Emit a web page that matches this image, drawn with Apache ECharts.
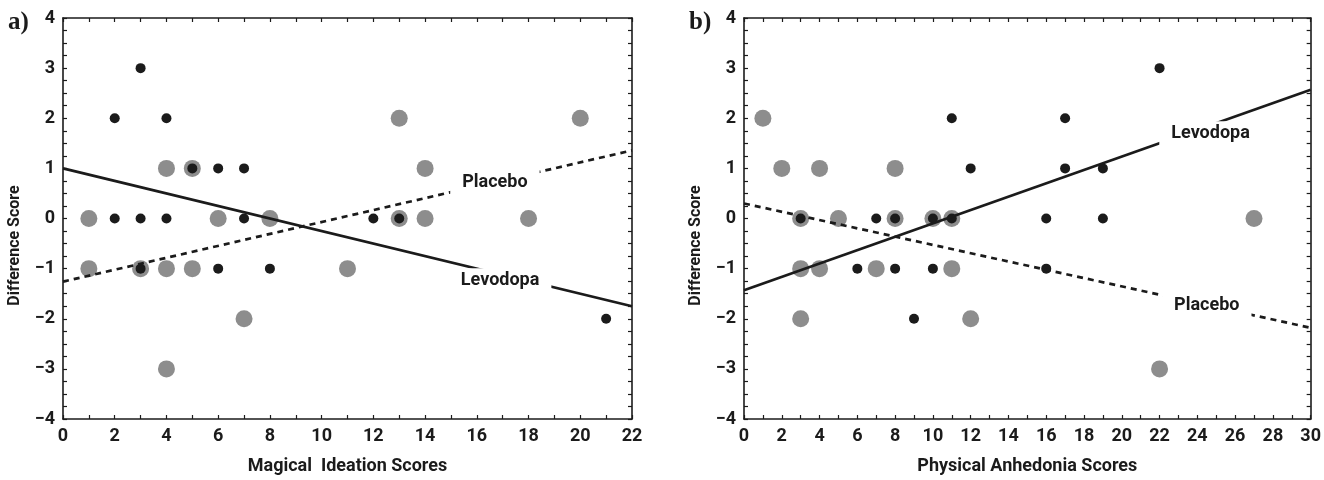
<!DOCTYPE html>
<html><head><meta charset="utf-8">
<script src="https://cdn.jsdelivr.net/npm/echarts@6/dist/echarts.min.js"></script>
<style>html,body{margin:0;padding:0;background:#fff}#c{width:1324px;height:480px}</style>
</head><body><div id="c"></div>
<script>
// ---- Panel a: Magical Ideation ----
const aLevodopaPts = [[3,3],[2,2],[4,2],[5,1],[6,1],[7,1],[2,0],[3,0],[4,0],[7,0],[12,0],[13,0],[3,-1],[6,-1],[8,-1],[21,-2]];
const aPlaceboPts = [[4,1],[5,1],[1,0],[6,0],[8,0],[13,2],[20,2],[14,1],[13,0],[14,0],[18,0],[1,-1],[3,-1],[4,-1],[5,-1],[11,-1],[7,-2],[4,-3]];
const aLevodopaFit = [1.0, -0.125];   // intercept, slope
const aPlaceboFit = [-1.26, 0.119];
const aXRange = [0, 22];
// ---- Panel b: Physical Anhedonia ----
const bLevodopaPts = [[11,2],[12,1],[3,0],[7,0],[8,0],[10,0],[11,0],[22,3],[17,2],[17,1],[19,1],[16,0],[19,0],[6,-1],[8,-1],[10,-1],[16,-1],[9,-2]];
const bPlaceboPts = [[1,2],[2,1],[4,1],[8,1],[3,0],[5,0],[8,0],[10,0],[11,0],[27,0],[3,-1],[4,-1],[7,-1],[11,-1],[3,-2],[12,-2],[22,-3]];
const bLevodopaFit = [-1.43, 0.1333];
const bPlaceboFit = [0.30, -0.0827];
const bXRange = [0, 30];
const yRange = [-4, 4];
const lineNames = ['Levodopa', 'Placebo'];

const INK = '#1b1b1b', GRAY = '#8d8d8d';
const sans = 'Roboto, "Noto Sans", sans-serif';
const tickFont = {fontFamily:sans, fontWeight:'bold', fontSize:18, color:INK};
const nameFont = {fontFamily:sans, fontWeight:'bold', fontSize:18, color:INK};
const fmt = v => v < 0 ? '\u2212' + Math.abs(v) : String(v);
const fit = (f, x) => f[0] + f[1] * x;

function xAx(grid, range, pos, name) {
  const primary = pos === 'bottom';
  return {
    type:'value', gridIndex:grid, position:pos, min:range[0], max:range[1], interval:2,
    axisLine:{show:true, onZero:false, lineStyle:{color:INK, width:1.6}},
    axisTick:{show:true, inside:true, length:4, lineStyle:{color:INK, width:1.2}},
    minorTick:{show:true, splitNumber:2, length:4, lineStyle:{color:INK, width:1.2}},
    splitLine:{show:false}, minorSplitLine:{show:false},
    axisLabel:{show:primary, formatter:fmt, margin:8, ...tickFont},
    name: primary ? name : '', nameLocation:'middle', nameGap:38, nameTextStyle:nameFont
  };
}
function yAx(grid, pos) {
  const primary = pos === 'left';
  return {
    type:'value', gridIndex:grid, position:pos, min:yRange[0], max:yRange[1], interval:1,
    axisLine:{show:true, onZero:false, lineStyle:{color:INK, width:1.6}},
    axisTick:{show:true, inside:true, length:4, lineStyle:{color:INK, width:1.2}},
    minorTick:{show:true, splitNumber:4, length:4, lineStyle:{color:INK, width:1.2}},
    splitLine:{show:false}, minorSplitLine:{show:false},
    axisLabel:{show:primary, formatter:fmt, margin:8, ...tickFont},
    name: primary ? 'Difference Score' : '', nameLocation:'middle', nameGap:40,
    nameTextStyle:{...nameFont, fontSize:16, padding:[0,54,0,0]}
  };
}
function scatter(xi, pts, big) {
  return {type:'scatter', xAxisIndex:xi, yAxisIndex:xi, data:pts, symbolSize: big ? 17 : 10,
    itemStyle:{color: big ? GRAY : INK, opacity:1}, z: big ? 2 : 3, silent:true};
}
function fitLine(xi, f, range, dashed) {
  return {type:'line', xAxisIndex:xi, yAxisIndex:xi, data:[[range[0], fit(f, range[0])],[range[1], fit(f, range[1])]],
    symbol:'none', lineStyle:{color:INK, width:2.7, type: dashed ? [6,5] : 'solid', opacity:1}, z:4, silent:true};
}
function lineLabel(xi, f, x, text, dy) {
  return {type:'scatter', xAxisIndex:xi, yAxisIndex:xi, data:[[x, fit(f, x)]], symbolSize:1, z:6, silent:true,
    itemStyle:{opacity:1, color:'#fff'},
    label:{show:true, position:'inside', formatter:text, offset:[0,dy], backgroundColor:'#ffffff', padding:[3,12],
      fontFamily:sans, fontWeight:'bold', fontSize:18, color:INK, textBorderWidth:0, opacity:1}};
}

const option = {
  animation:false,
  grid:[{left:63, right:692, top:18, bottom:59}, {left:744, right:11, top:18, bottom:59}],
  xAxis:[xAx(0, aXRange, 'bottom', 'Magical  Ideation Scores'), xAx(1, bXRange, 'bottom', 'Physical Anhedonia Scores'),
         xAx(0, aXRange, 'top'), xAx(1, bXRange, 'top')],
  yAxis:[yAx(0,'left'), yAx(1,'left'), yAx(0,'right'), yAx(1,'right')],
  series:[
    scatter(0, aPlaceboPts, true), scatter(0, aLevodopaPts, false),
    scatter(1, bPlaceboPts, true), scatter(1, bLevodopaPts, false),
    fitLine(0, aLevodopaFit, aXRange, false), fitLine(0, aPlaceboFit, aXRange, true),
    fitLine(1, bLevodopaFit, bXRange, false), fitLine(1, bPlaceboFit, bXRange, true),
    lineLabel(0, aPlaceboFit, 16.7, lineNames[1], 0),
    lineLabel(0, aLevodopaFit, 16.9, lineNames[0], 6),
    lineLabel(1, bLevodopaFit, 24.7, lineNames[0], 8),
    lineLabel(1, bPlaceboFit, 24.5, lineNames[1], 0)
  ],
  graphic:[
    {type:'text', left:8, top:10, style:{text:'a)', font:'bold 25px "Liberation Serif", serif', fill:INK}},
    {type:'text', left:689, top:10, style:{text:'b)', font:'bold 25px "Liberation Serif", serif', fill:INK}}
  ]
};
const chart = echarts.init(document.getElementById('c'), null, {renderer:'canvas'});
chart.setOption(option);
</script></body></html>
